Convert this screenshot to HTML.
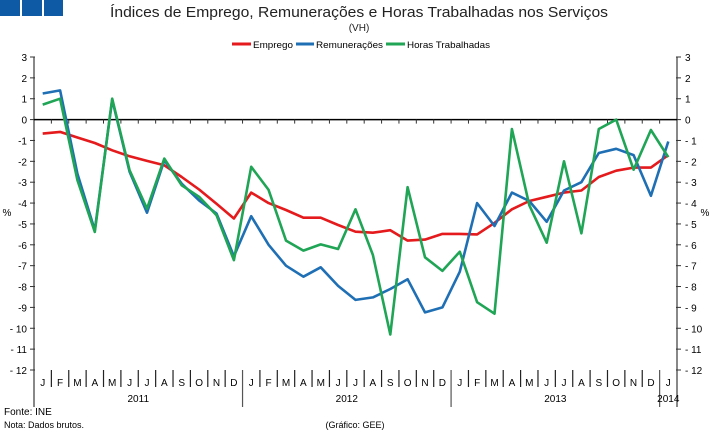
<!DOCTYPE html>
<html><head><meta charset="utf-8"><style>
body{margin:0;background:#fff;font-family:"Liberation Sans",sans-serif}
svg{display:block}
</style></head><body>
<svg id="c" width="716" height="434" viewBox="0 0 716 434" xmlns="http://www.w3.org/2000/svg">
<rect x="0" y="0" width="20" height="16" fill="#0f5aa5"/>
<rect x="22" y="0" width="20" height="16" fill="#0f5aa5"/>
<rect x="44" y="0" width="19" height="16" fill="#0f5aa5"/>
<text x="110" y="17" font-size="15" fill="#222" textLength="498" lengthAdjust="spacingAndGlyphs">Índices de Emprego, Remunerações e Horas Trabalhadas nos Serviços</text>
<text x="359" y="31" text-anchor="middle" font-size="10" fill="#222">(VH)</text>
<g font-size="9.5" fill="#000">
<g><line x1="232" y1="44" x2="251" y2="44" stroke="#e41a1c" stroke-width="3"/><text x="253" y="48" textLength="40" lengthAdjust="spacingAndGlyphs">Emprego</text></g>
<g><line x1="296" y1="44" x2="314" y2="44" stroke="#1f6fb5" stroke-width="3"/><text x="316" y="48" textLength="67" lengthAdjust="spacingAndGlyphs">Remunerações</text></g>
<g><line x1="386" y1="44" x2="405" y2="44" stroke="#1fa555" stroke-width="3"/><text x="407" y="48" textLength="83" lengthAdjust="spacingAndGlyphs">Horas Trabalhadas</text></g>
</g>
<text x="7" y="216" font-size="10" text-anchor="middle">%</text>
<text x="705" y="216" font-size="10" text-anchor="middle">%</text>
<g id="axes"></g>
<g id="series"></g>
<text x="4" y="415" font-size="10">Fonte: INE</text>
<text x="4" y="428" font-size="9">Nota: Dados brutos.</text>
<text x="355" y="428" font-size="9" text-anchor="middle">(Gráfico: GEE)</text>
</svg>
<script>
const months = ["J","F","M","A","M","J","J","A","S","O","N","D","J","F","M","A","M","J","J","A","S","O","N","D","J","F","M","A","M","J","J","A","S","O","N","D","J"];
const years = ["2011","2012","2013","2014"];
const yTicks = [3,2,1,0,-1,-2,-3,-4,-5,-6,-7,-8,-9,-10,-11,-12];
const emprego = [-0.67,-0.59,-0.86,-1.12,-1.47,-1.76,-1.98,-2.19,-2.75,-3.35,-4.03,-4.74,-3.5,-4.0,-4.33,-4.7,-4.7,-5.05,-5.37,-5.42,-5.3,-5.8,-5.75,-5.48,-5.48,-5.5,-4.95,-4.3,-3.9,-3.7,-3.5,-3.4,-2.75,-2.45,-2.3,-2.3,-1.7];
const remuneracoes = [1.25,1.4,-2.59,-5.3,0.96,-2.5,-4.46,-1.95,-3.07,-3.87,-4.5,-6.55,-4.63,-6.0,-7.0,-7.53,-7.08,-7.97,-8.64,-8.52,-8.12,-7.65,-9.24,-9.0,-7.29,-4.0,-5.1,-3.5,-3.9,-4.9,-3.4,-3.0,-1.6,-1.4,-1.7,-3.65,-1.05];
const horas = [0.72,1.0,-2.9,-5.38,1.0,-2.43,-4.27,-1.87,-3.15,-3.7,-4.58,-6.74,-2.26,-3.37,-5.8,-6.28,-5.98,-6.2,-4.3,-6.49,-10.3,-3.24,-6.6,-7.25,-6.33,-8.75,-9.3,-0.45,-4.1,-5.9,-2.0,-5.45,-0.45,0,-2.4,-0.5,-1.8];

const NS="http://www.w3.org/2000/svg";
const X0=34,X1=677,YT=57,YB=370,VMAX=3,VMIN=-12;
const n=months.length, bw=(X1-X0)/n;
function xPos(i){return X0+(i+0.5)*bw;}
function yPos(v){return YT+(VMAX-v)/(VMAX-VMIN)*(YB-YT);}
function mk(tag,attrs,parent){const e=document.createElementNS(NS,tag);for(const k in attrs)e.setAttribute(k,attrs[k]);parent.appendChild(e);return e;}
const ax=document.getElementById('axes');
let e;
e=mk('line',{x1:X0,y1:YT,x2:X0,y2:407,stroke:'#888','stroke-width':2},ax);


e=mk('line',{x1:X1,y1:YT,x2:X1,y2:407,stroke:'#888','stroke-width':2},ax);


yTicks.forEach(v=>{
  const y=yPos(v);
  mk('line',{x1:X0-4,y1:y,x2:X0+1,y2:y,stroke:'#333'},ax);
  mk('line',{x1:X1-1,y1:y,x2:X1+4,y2:y,stroke:'#333'},ax);
  e=mk('text',{x:27,y:y+4,'font-size':10,'text-anchor':'end'},ax);e.textContent=(v<=-10?'- ':(v<0?'-':''))+Math.abs(v);
  
  
  e=mk('text',{x:685,y:y+4,'font-size':10},ax);e.textContent=(v<0?'- ':'')+Math.abs(v);
  
  
});
const y0=yPos(0);
e=mk('line',{x1:X0,y1:y0,x2:X1,y2:y0,stroke:'#000','stroke-width':1.5},ax);


for(let i=1;i<n;i++){
  const x=X0+i*bw;
  mk('line',{x1:x,y1:y0,x2:x,y2:y0+4,stroke:'#333'},ax);
  const yb=(i%12===0)?407:387;
  mk('line',{x1:x,y1:YB,x2:x,y2:yb,stroke:(i%12===0)?'#555':'#222','stroke-width':1.2},ax);
}
months.forEach((m,i)=>{
  e=mk('text',{x:xPos(i),y:386,'font-size':10,'text-anchor':'middle'},ax);e.textContent=m;
  
  
});
years.forEach((yr,k)=>{
  const a=k*12, b=Math.min(n,(k+1)*12);
  e=mk('text',{x:(xPos(a)+xPos(b-1))/2,y:402,'font-size':10,'text-anchor':'middle'},ax);e.textContent=yr;
  
  
});
const sg=document.getElementById('series');
function line(arr,col,name){
  const d=arr.map((v,i)=>(i?'L':'M')+xPos(i).toFixed(1)+' '+yPos(v).toFixed(1)).join(' ');
  const p=mk('path',{d:d,fill:'none',stroke:col,'stroke-width':2.6,'stroke-linejoin':'round'},sg);
  
  
}
line(emprego,'#e41a1c','series-emprego');
line(remuneracoes,'#1f6fb5','series-remuneracoes');
line(horas,'#1fa555','series-horas-trabalhadas');
</script>
</body></html>
